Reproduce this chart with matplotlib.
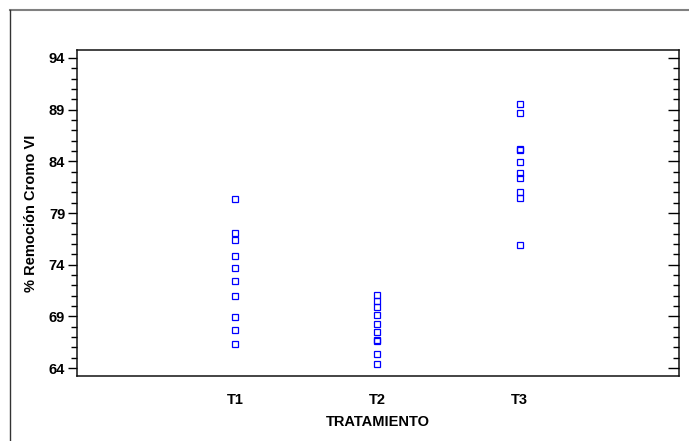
import matplotlib
matplotlib.use("Agg")
import matplotlib.pyplot as plt
from matplotlib.lines import Line2D
from matplotlib.ticker import MultipleLocator

# ------------------------------------------------------------
# data
# ------------------------------------------------------------

tratamientos = ["T1", "T2", "T3"]

t1_values = [80.35, 77.03, 76.35, 74.84, 73.68, 72.45, 71.0, 68.93, 67.65, 66.29]
t2_values = [71.03, 70.51, 69.87, 69.16, 68.23, 67.45, 66.70, 66.65, 65.35, 64.36]
t3_values = [89.52, 88.68, 85.20, 85.05, 83.90, 82.87, 82.39, 81.00, 80.48, 75.87]

y_ticks = [64, 69, 74, 79, 84, 89, 94]

# ------------------------------------------------------------
# figure
# ------------------------------------------------------------

plt.rcParams["font.family"] = ["Liberation Sans", "DejaVu Sans"]
plt.rcParams["font.weight"] = "bold"

fig = plt.figure(figsize=(6.89, 4.41), dpi=100)
fig.patch.set_facecolor("white")

ax = fig.add_axes([0.1118, 0.1474, 0.8737, 0.7392])

for i, vals in enumerate([t1_values, t2_values, t3_values]):
    ax.plot(
        [i + 1] * len(vals),
        vals,
        linestyle="none",
        marker="s",
        markersize=3.8,
        markerfacecolor="none",
        markeredgecolor="#0000ff",
        markeredgewidth=0.9,
    )

ax.set_xlim(-0.11, 4.12)
ax.set_ylim(63.23, 94.77)

ax.set_xticks([1, 2, 3])
ax.set_xticklabels(tratamientos, fontsize=10.5, fontweight="bold")
ax.tick_params(axis="x", length=0, pad=12)

ax.set_yticks(y_ticks)
ax.yaxis.set_minor_locator(MultipleLocator(1))
ax.tick_params(axis="y", which="major", direction="out", length=6.5,
               width=1.0, labelsize=10.5, pad=2)
ax.tick_params(axis="y", which="minor", direction="out", length=4.3, width=1.0)
for lbl in ax.get_yticklabels():
    lbl.set_fontweight("bold")

ax.set_xlabel("TRATAMIENTO", fontsize=10.5, fontweight="bold", labelpad=6)
ax.set_ylabel("% Remoción Cromo VI", fontsize=10.5, fontweight="bold", labelpad=8)

for sp in ax.spines.values():
    sp.set_linewidth(1.1)
    sp.set_color("#111111")

# right side ticks pointing inward
axr = ax.twinx()
axr.set_ylim(ax.get_ylim())
axr.set_yticks(y_ticks)
axr.yaxis.set_minor_locator(MultipleLocator(1))
axr.tick_params(axis="y", which="major", direction="in", length=8, width=1.0,
                labelright=False)
axr.tick_params(axis="y", which="minor", direction="in", length=4.3, width=1.0)
for sp in axr.spines.values():
    sp.set_visible(False)

# outer frame (top and left only)
fig.add_artist(Line2D([10 / 689, 1.0], [1 - 10 / 441, 1 - 10 / 441],
                      transform=fig.transFigure, color="#808080", linewidth=1.5))
fig.add_artist(Line2D([10 / 689, 10 / 689], [0.0, 1 - 10 / 441],
                      transform=fig.transFigure, color="#333333", linewidth=1.0))

fig.savefig("out.png", dpi=100, facecolor="white")
